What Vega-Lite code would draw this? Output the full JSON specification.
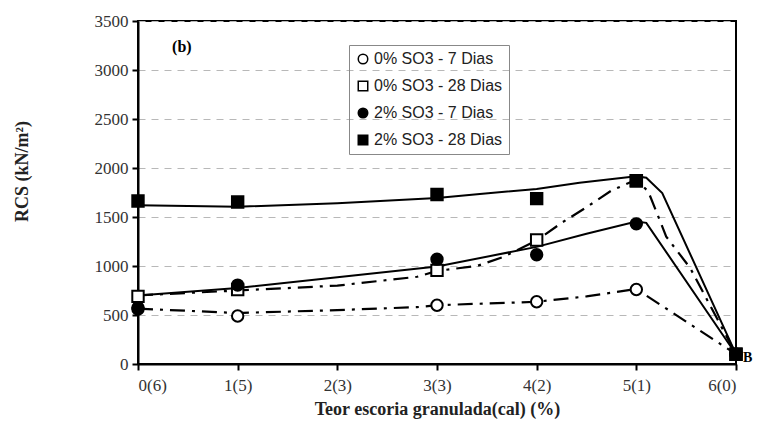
{
  "$schema": "https://vega.github.io/schema/vega-lite/v6.json",
  "width": 598,
  "height": 343,
  "autosize": "none",
  "padding": {"left": 138, "top": 21, "right": 24, "bottom": 77},
  "background": "white",
  "config": {
    "view": {"stroke": "black", "strokeWidth": 2},
    "axis": {
      "domainColor": "black", "domainWidth": 2, "tickColor": "black", "tickWidth": 2, "tickSize": 6,
      "labelFont": "Liberation Serif", "labelFontSize": 17, "labelColor": "#333",
      "titleFont": "Liberation Serif", "titleFontWeight": "bold", "titleColor": "#222"
    }
  },
  "datasets": {
    "points": [
      {"x": 0, "v": 560, "s": "0% SO3 - 7 Dias"},
      {"x": 1, "v": 490, "s": "0% SO3 - 7 Dias"},
      {"x": 3, "v": 600, "s": "0% SO3 - 7 Dias"},
      {"x": 4, "v": 635, "s": "0% SO3 - 7 Dias"},
      {"x": 5, "v": 760, "s": "0% SO3 - 7 Dias"},
      {"x": 6, "v": 100, "s": "0% SO3 - 7 Dias"},
      {"x": 0, "v": 690, "s": "0% SO3 - 28 Dias"},
      {"x": 1, "v": 760, "s": "0% SO3 - 28 Dias"},
      {"x": 3, "v": 955, "s": "0% SO3 - 28 Dias"},
      {"x": 4, "v": 1265, "s": "0% SO3 - 28 Dias"},
      {"x": 5, "v": 1870, "s": "0% SO3 - 28 Dias"},
      {"x": 6, "v": 100, "s": "0% SO3 - 28 Dias"},
      {"x": 0, "v": 575, "s": "2% SO3 - 7 Dias"},
      {"x": 1, "v": 805, "s": "2% SO3 - 7 Dias"},
      {"x": 3, "v": 1070, "s": "2% SO3 - 7 Dias"},
      {"x": 4, "v": 1115, "s": "2% SO3 - 7 Dias"},
      {"x": 5, "v": 1430, "s": "2% SO3 - 7 Dias"},
      {"x": 6, "v": 100, "s": "2% SO3 - 7 Dias"},
      {"x": 0, "v": 1663, "s": "2% SO3 - 28 Dias"},
      {"x": 1, "v": 1653, "s": "2% SO3 - 28 Dias"},
      {"x": 3, "v": 1730, "s": "2% SO3 - 28 Dias"},
      {"x": 4, "v": 1688, "s": "2% SO3 - 28 Dias"},
      {"x": 5, "v": 1870, "s": "2% SO3 - 28 Dias"},
      {"x": 6, "v": 100, "s": "2% SO3 - 28 Dias"}
    ],
    "curves": [
      {"x": 0, "v": 565, "s": "0% SO3 - 7 Dias", "d": "dashdot"},
      {"x": 1, "v": 520, "s": "0% SO3 - 7 Dias", "d": "dashdot"},
      {"x": 2, "v": 550, "s": "0% SO3 - 7 Dias", "d": "dashdot"},
      {"x": 2.8, "v": 580, "s": "0% SO3 - 7 Dias", "d": "dashdot"},
      {"x": 3, "v": 600, "s": "0% SO3 - 7 Dias", "d": "dashdot"},
      {"x": 4, "v": 635, "s": "0% SO3 - 7 Dias", "d": "dashdot"},
      {"x": 4.5, "v": 690, "s": "0% SO3 - 7 Dias", "d": "dashdot"},
      {"x": 5, "v": 765, "s": "0% SO3 - 7 Dias", "d": "dashdot"},
      {"x": 6, "v": 100, "s": "0% SO3 - 7 Dias", "d": "dashdot"},
      {"x": 0, "v": 700, "s": "0% SO3 - 28 Dias", "d": "dashdot"},
      {"x": 1, "v": 750, "s": "0% SO3 - 28 Dias", "d": "dashdot"},
      {"x": 2, "v": 800, "s": "0% SO3 - 28 Dias", "d": "dashdot"},
      {"x": 2.8, "v": 890, "s": "0% SO3 - 28 Dias", "d": "dashdot"},
      {"x": 3, "v": 950, "s": "0% SO3 - 28 Dias", "d": "dashdot"},
      {"x": 3.4, "v": 1000, "s": "0% SO3 - 28 Dias", "d": "dashdot"},
      {"x": 3.66, "v": 1090, "s": "0% SO3 - 28 Dias", "d": "dashdot"},
      {"x": 4, "v": 1260, "s": "0% SO3 - 28 Dias", "d": "dashdot"},
      {"x": 4.25, "v": 1440, "s": "0% SO3 - 28 Dias", "d": "dashdot"},
      {"x": 4.5, "v": 1600, "s": "0% SO3 - 28 Dias", "d": "dashdot"},
      {"x": 4.75, "v": 1770, "s": "0% SO3 - 28 Dias", "d": "dashdot"},
      {"x": 5, "v": 1880, "s": "0% SO3 - 28 Dias", "d": "dashdot"},
      {"x": 5.12, "v": 1760, "s": "0% SO3 - 28 Dias", "d": "dashdot"},
      {"x": 5.3, "v": 1300, "s": "0% SO3 - 28 Dias", "d": "dashdot"},
      {"x": 5.54, "v": 980, "s": "0% SO3 - 28 Dias", "d": "dashdot"},
      {"x": 6, "v": 100, "s": "0% SO3 - 28 Dias", "d": "dashdot"},
      {"x": 0, "v": 700, "s": "2% SO3 - 7 Dias", "d": "solid"},
      {"x": 1, "v": 775, "s": "2% SO3 - 7 Dias", "d": "solid"},
      {"x": 2, "v": 885, "s": "2% SO3 - 7 Dias", "d": "solid"},
      {"x": 3, "v": 995, "s": "2% SO3 - 7 Dias", "d": "solid"},
      {"x": 4, "v": 1195, "s": "2% SO3 - 7 Dias", "d": "solid"},
      {"x": 4.5, "v": 1330, "s": "2% SO3 - 7 Dias", "d": "solid"},
      {"x": 5, "v": 1455, "s": "2% SO3 - 7 Dias", "d": "solid"},
      {"x": 5.1, "v": 1440, "s": "2% SO3 - 7 Dias", "d": "solid"},
      {"x": 6, "v": 100, "s": "2% SO3 - 7 Dias", "d": "solid"},
      {"x": 0, "v": 1620, "s": "2% SO3 - 28 Dias", "d": "solid"},
      {"x": 1, "v": 1605, "s": "2% SO3 - 28 Dias", "d": "solid"},
      {"x": 2, "v": 1640, "s": "2% SO3 - 28 Dias", "d": "solid"},
      {"x": 2.43, "v": 1663, "s": "2% SO3 - 28 Dias", "d": "solid"},
      {"x": 3, "v": 1694, "s": "2% SO3 - 28 Dias", "d": "solid"},
      {"x": 3.43, "v": 1735, "s": "2% SO3 - 28 Dias", "d": "solid"},
      {"x": 4, "v": 1786, "s": "2% SO3 - 28 Dias", "d": "solid"},
      {"x": 4.43, "v": 1850, "s": "2% SO3 - 28 Dias", "d": "solid"},
      {"x": 5, "v": 1915, "s": "2% SO3 - 28 Dias", "d": "solid"},
      {"x": 5.1, "v": 1900, "s": "2% SO3 - 28 Dias", "d": "solid"},
      {"x": 5.26, "v": 1745, "s": "2% SO3 - 28 Dias", "d": "solid"},
      {"x": 6, "v": 100, "s": "2% SO3 - 28 Dias", "d": "solid"}
    ],
    "notes": [
      {"x": 0.44, "v": 3235, "t": "(b)"},
      {"x": 6, "v": 60, "t": "B"}
    ]
  },
  "layer": [
    {
      "data": {"name": "curves"},
      "transform": [{"filter": "datum.d == 'solid'"}],
      "mark": {"type": "line", "color": "black", "strokeWidth": 2},
      "encoding": {
        "x": {"field": "x", "type": "quantitative", "scale": {"domain": [0, 6], "nice": false},
          "axis": {"values": [0, 1, 2, 3, 4, 5, 6], "grid": false, "labelPadding": 7,
            "labelExpr": "['0(6)','1(5)','2(3)','3(3)','4(2)','5(1)','6(0)'][datum.value]",
            "title": "Teor escoria granulada(cal) (%)", "titleFontSize": 18, "titlePadding": 7}},
        "y": {"field": "v", "type": "quantitative", "scale": {"domain": [0, 3500], "nice": false},
          "axis": {"values": [0, 500, 1000, 1500, 2000, 2500, 3000, 3500], "grid": true, "format": "d",
            "gridDash": [7, 6], "gridColor": "#b8b8b8", "gridWidth": 1, "labelPadding": 4,
            "title": "RCS (kN/m²)", "titleFontSize": 18, "titleX": -116, "titleY": 150,
            "titleBaseline": "middle", "titleAlign": "center"}},
        "detail": {"field": "s"}
      }
    },
    {
      "data": {"name": "curves"},
      "transform": [{"filter": "datum.d == 'dashdot'"}],
      "mark": {"type": "line", "color": "black", "strokeWidth": 2.2, "strokeDash": [15, 7, 3, 7]},
      "encoding": {
        "x": {"field": "x", "type": "quantitative"},
        "y": {"field": "v", "type": "quantitative"},
        "detail": {"field": "s"}
      }
    },
    {
      "data": {"name": "points"},
      "mark": {"type": "point", "filled": true, "stroke": "black", "strokeWidth": 2, "opacity": 1, "size": 130},
      "encoding": {
        "x": {"field": "x", "type": "quantitative"},
        "y": {"field": "v", "type": "quantitative"},
        "shape": {"field": "s", "type": "nominal",
          "scale": {"domain": ["0% SO3 - 7 Dias", "0% SO3 - 28 Dias", "2% SO3 - 7 Dias", "2% SO3 - 28 Dias"],
            "range": ["circle", "square", "circle", "square"]},
          "legend": {"orient": "none", "legendX": 211, "legendY": 24, "title": null,
            "strokeColor": "#888", "padding": 6, "labelFont": "Liberation Sans", "labelFontSize": 16,
            "labelColor": "#222", "labelOffset": 3, "rowPadding": 11, "symbolSize": 90,
            "encode": {"symbols": {"update": {"stroke": {"value": "black"}, "strokeWidth": {"value": 2}}}}}},
        "fill": {"field": "s", "type": "nominal",
          "scale": {"domain": ["0% SO3 - 7 Dias", "0% SO3 - 28 Dias", "2% SO3 - 7 Dias", "2% SO3 - 28 Dias"],
            "range": ["white", "white", "black", "black"]},
          "legend": {"orient": "none", "legendX": 211, "legendY": 24, "title": null,
            "strokeColor": "#888", "padding": 6, "labelFont": "Liberation Sans", "labelFontSize": 16,
            "labelColor": "#222", "labelOffset": 3, "rowPadding": 11, "symbolSize": 90,
            "encode": {"symbols": {"update": {"stroke": {"value": "black"}, "strokeWidth": {"value": 2}}}}}}
      }
    },
    {
      "data": {"name": "notes"},
      "transform": [{"filter": "datum.t == '(b)'"}],
      "mark": {"type": "text", "font": "Liberation Serif", "fontWeight": "bold", "fontSize": 16, "align": "center", "baseline": "middle"},
      "encoding": {
        "x": {"field": "x", "type": "quantitative"},
        "y": {"field": "v", "type": "quantitative"},
        "text": {"field": "t"}
      }
    },
    {
      "data": {"name": "notes"},
      "transform": [{"filter": "datum.t == 'B'"}],
      "mark": {"type": "text", "font": "Liberation Serif", "fontWeight": "bold", "fontSize": 14, "align": "left", "baseline": "middle", "dx": 7},
      "encoding": {
        "x": {"field": "x", "type": "quantitative"},
        "y": {"field": "v", "type": "quantitative"},
        "text": {"field": "t"}
      }
    }
  ]
}
